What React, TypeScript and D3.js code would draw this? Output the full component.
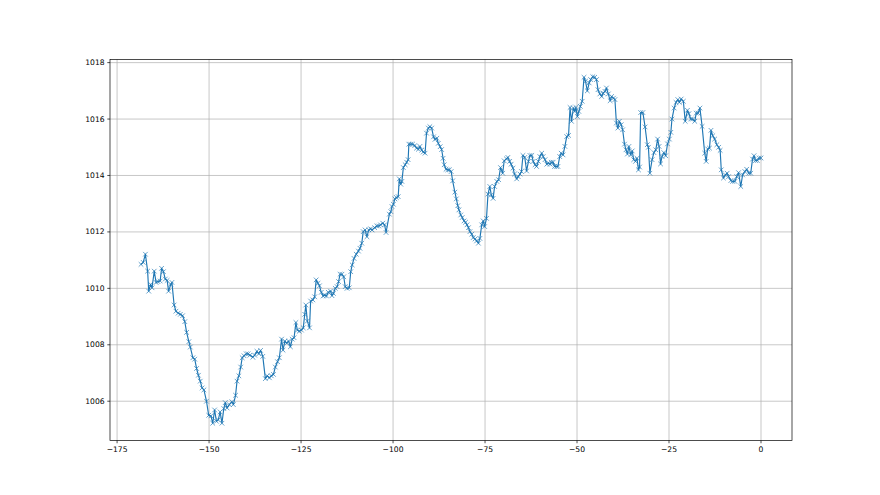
import React from "react";
import * as d3 from "d3";

const hoursA = [-168.5,-167.9,-167.3,-166.7,-166.4,-165.9,-165.5,-164.9,-164.4,-163.9,-163.3,-162.9,-162.4,-161.9,-161.4,-161.0,-160.4,-160.1,-159.5,-159.0,-158.4,-157.8,-157.2,-156.6,-156.1,-155.5,-155.1,-154.4,-153.9,-153.4,-152.9,-152.4,-151.9,-151.4,-150.7,-150.1,-149.5,-149.0,-148.5,-148.0,-147.5,-147.0,-146.5,-146.0,-145.6,-145.1,-144.5,-143.8,-143.4,-142.8,-142.4,-141.9,-141.4,-141.0,-140.5,-139.9,-139.4,-138.9,-138.1,-137.6,-137.0,-136.5,-136.0,-135.4];
const pressureA = [1010.85,1010.92,1011.21,1010.61,1009.90,1010.14,1010.02,1010.61,1010.21,1010.24,1010.26,1010.71,1010.59,1010.33,1010.28,1009.90,1010.14,1010.21,1009.41,1009.19,1009.12,1009.08,1009.03,1008.82,1008.44,1008.11,1007.92,1007.54,1007.49,1007.16,1006.92,1006.71,1006.47,1006.40,1006.00,1005.50,1005.48,1005.22,1005.69,1005.29,1005.34,1005.62,1005.22,1005.74,1005.95,1005.76,1005.88,1005.98,1005.88,1006.21,1006.71,1006.90,1007.21,1007.54,1007.61,1007.68,1007.68,1007.63,1007.56,1007.63,1007.77,1007.68,1007.80,1007.59];

const hoursB = [-134.7,-134.2,-133.6,-133.1,-132.5,-132.0,-131.4,-130.9,-130.3,-129.9,-129.4,-128.9,-128.4,-127.9,-127.4,-126.9,-126.4,-126.0,-125.5,-124.9,-124.4,-124.0,-123.7,-123.3,-122.7,-122.4,-121.8,-121.3,-120.9,-120.4,-120.0,-119.5,-119.0,-118.6,-118.1,-117.6,-117.0,-116.6,-116.2,-115.7,-115.2,-114.8,-114.4,-113.9,-113.4,-113.0,-112.5,-111.9,-111.5,-111.1,-110.6,-110.0,-109.4,-109.0,-108.5,-108.1,-107.6,-107.1,-106.6,-106.1,-105.7,-105.0,-104.4,-103.9,-103.4,-102.8,-102.3,-101.9];
const pressureB = [1006.80,1006.90,1006.83,1006.90,1006.95,1007.21,1007.40,1007.54,1008.20,1007.81,1008.13,1008.06,1008.13,1007.93,1008.20,1008.25,1008.79,1008.52,1008.48,1008.52,1008.60,1009.08,1009.41,1008.84,1008.60,1009.55,1009.59,1009.70,1010.30,1010.18,1010.09,1009.86,1009.73,1009.76,1009.73,1009.86,1009.90,1009.74,1009.82,1010.00,1010.06,1010.24,1010.50,1010.50,1010.41,1010.06,1010.00,1010.02,1010.59,1010.83,1011.06,1011.21,1011.32,1011.42,1011.60,1012.01,1012.07,1011.83,1012.07,1012.11,1012.07,1012.15,1012.21,1012.21,1012.25,1012.31,1012.25,1011.98];

const hoursC = [-101.0,-100.6,-100.3,-99.9,-99.5,-99.1,-98.6,-98.3,-97.9,-97.6,-97.2,-96.7,-96.3,-95.9,-95.7,-95.2,-94.7,-94.1,-93.6,-93.1,-92.7,-92.2,-91.8,-91.3,-90.9,-90.4,-90.0,-89.5,-89.0,-88.6,-88.1,-87.7,-87.2,-86.8,-86.4,-86.1,-85.6,-85.1,-84.7,-84.2,-83.8,-83.2,-82.8,-82.4,-82.1,-81.6,-81.2,-80.7,-80.3,-79.9,-79.5,-79.1,-78.6,-78.2,-77.7,-77.3,-76.8,-76.4,-75.9,-75.5,-75.1,-74.6,-74.2,-73.7,-73.3,-72.8,-72.4,-71.8,-71.3,-70.8,-70.2,-69.8,-69.2,-68.8,-68.3,-67.9,-67.4,-67.0];
const pressureC = [1012.63,1012.72,1012.90,1012.98,1013.17,1013.22,1013.25,1013.88,1013.69,1013.79,1014.28,1014.38,1014.47,1014.56,1015.11,1015.11,1015.11,1015.06,1014.97,1014.93,1015.03,1014.90,1014.83,1014.79,1015.50,1015.68,1015.73,1015.68,1015.37,1015.28,1015.32,1015.14,1015.02,1014.92,1014.61,1014.38,1014.22,1014.20,1014.20,1014.14,1013.81,1013.41,1013.17,1012.93,1012.78,1012.60,1012.51,1012.39,1012.34,1012.25,1012.15,1012.01,1011.92,1011.80,1011.75,1011.68,1011.60,1011.77,1012.25,1012.39,1012.19,1012.48,1013.34,1013.61,1013.31,1013.19,1013.61,1013.79,1013.85,1014.28,1014.08,1014.52,1014.59,1014.64,1014.50,1014.40,1014.26,1014.05];

const hoursD = [-66.4,-66.0,-65.5,-65.1,-64.7,-64.2,-63.7,-63.2,-62.8,-62.3,-61.9,-61.4,-61.0,-60.5,-60.1,-59.6,-59.2,-58.7,-58.2,-57.8,-57.3,-57.0,-56.5,-56.1,-55.6,-55.2,-54.7,-54.3,-53.8,-53.3,-52.8,-52.3,-51.9,-51.5,-51.0,-50.6,-50.3,-49.9,-49.5,-49.1,-48.6,-48.1,-47.7,-47.2,-46.7,-46.3,-45.7,-45.2,-44.7,-44.3,-43.8,-43.3,-42.9,-42.4,-42.0,-41.5,-41.0,-40.6,-40.1,-39.7,-39.3,-38.9,-38.5,-38.0,-37.6,-37.1,-36.7,-36.3,-35.9,-35.4,-35.0,-34.6,-34.1,-33.7,-33.3,-33.0];
const pressureD = [1013.88,1013.96,1014.05,1014.14,1014.71,1014.64,1014.16,1014.50,1014.71,1014.71,1014.50,1014.38,1014.32,1014.50,1014.67,1014.79,1014.67,1014.56,1014.40,1014.44,1014.40,1014.47,1014.47,1014.32,1014.32,1014.32,1014.67,1014.79,1014.73,1015.03,1015.38,1015.42,1016.41,1015.92,1016.39,1016.27,1016.41,1016.09,1016.27,1016.45,1016.63,1017.48,1017.34,1017.00,1017.28,1017.40,1017.50,1017.48,1017.40,1017.04,1016.89,1016.80,1016.92,1016.98,1017.10,1016.89,1016.65,1016.80,1016.74,1016.69,1015.86,1015.68,1015.92,1015.80,1015.62,1015.11,1014.91,1014.76,1015.03,1014.73,1014.87,1014.56,1014.50,1014.61,1014.20,1014.30];

const hoursE = [-32.7,-32.1,-31.5,-30.9,-30.6,-30.2,-29.6,-29.1,-28.6,-28.1,-27.7,-27.3,-26.9,-26.4,-25.9,-25.4,-24.9,-24.5,-24.2,-23.6,-23.1,-22.6,-22.2,-21.7,-21.1,-20.6,-20.0,-19.6,-19.1,-18.6,-18.0,-17.6,-17.1,-16.6,-16.0,-15.3,-14.9,-14.5,-14.0,-13.6,-13.1,-12.6,-12.0,-11.5,-11.1,-10.8,-10.2,-9.7,-9.2,-8.8,-8.2,-7.7,-7.1,-6.6,-6.1,-5.5,-5.0,-4.4,-3.9,-3.3,-2.8,-2.3,-1.9,-1.5,-1.0,-0.5,0];
const pressureE = [1016.23,1016.23,1015.72,1015.09,1015.00,1014.08,1014.56,1014.81,1014.91,1015.29,1015.03,1014.41,1014.67,1014.81,1014.70,1015.12,1015.29,1015.53,1016.00,1016.39,1016.59,1016.69,1016.59,1016.71,1016.63,1015.92,1016.31,1016.19,1016.00,1016.00,1015.92,1016.21,1016.21,1016.39,1015.74,1014.79,1014.50,1014.94,1014.97,1015.60,1015.41,1015.29,1015.09,1015.00,1014.89,1014.20,1013.91,1014.02,1014.08,1013.96,1013.82,1013.79,1013.79,1013.96,1014.10,1013.61,1014.02,1014.14,1014.22,1014.08,1014.08,1014.58,1014.70,1014.53,1014.53,1014.62,1014.62];

const xTicks = [-175, -150, -125, -100, -75, -50, -25, 0];
const yTicks = [1006, 1008, 1010, 1012, 1014, 1016, 1018];

const hours = [...hoursA, ...hoursB, ...hoursC, ...hoursD, ...hoursE];
const pressure = [...pressureA, ...pressureB, ...pressureC, ...pressureD, ...pressureE];

const W = 880;
const H = 495;
const L = 110;
const R = 792;
const T = 59.4;
const B = 440.55;
const COLOR = "#1f77b4";
const FONT = "DejaVu Sans, sans-serif";

const fmt = (v: number) => (v < 0 ? "\u2212" + Math.abs(v) : String(v));

export default function App() {
  const n = Math.min(hours.length, pressure.length);
  const data = d3.range(n).map((i) => ({ t: hours[i], p: pressure[i] }));
  const [tMin, tMax] = d3.extent(data, (d) => d.t) as [number, number];
  const [pMin, pMax] = d3.extent(data, (d) => d.p) as [number, number];
  const mx = (tMax - tMin) * 0.05;
  const my = (pMax - pMin) * 0.05;
  const x = d3.scaleLinear().domain([tMin - mx, tMax + mx]).range([L, R]);
  const y = d3.scaleLinear().domain([pMin - my, pMax + my]).range([B, T]);
  const line = d3
    .line<{ t: number; p: number }>()
    .x((d) => x(d.t))
    .y((d) => y(d.p));
  const ms = 2.3;

  return (
    <svg
      width={W}
      height={H}
      style={{ position: "absolute", left: 0, top: 0, background: "#fff" }}
    >
      <rect x={0} y={0} width={W} height={H} fill="#fff" />
      <g>
        {xTicks.map((t) => (
          <line key={"gx" + t} x1={x(t)} x2={x(t)} y1={T} y2={B} stroke="#b0b0b0" strokeWidth={0.7} />
        ))}
        {yTicks.map((v) => (
          <line key={"gy" + v} x1={L} x2={R} y1={y(v)} y2={y(v)} stroke="#b0b0b0" strokeWidth={0.7} />
        ))}
      </g>
      <path d={line(data) || ""} fill="none" stroke={COLOR} strokeWidth={1.15} strokeLinejoin="round" />
      <g stroke={COLOR} strokeWidth={0.8} opacity={0.85}>
        {data.map((d, i) => {
          const cx = x(d.t);
          const cy = y(d.p);
          return (
            <path
              key={i}
              d={`M${cx - ms},${cy - ms}L${cx + ms},${cy + ms}M${cx - ms},${cy + ms}L${cx + ms},${cy - ms}`}
              fill="none"
            />
          );
        })}
      </g>
      <rect x={L} y={T} width={R - L} height={B - T} fill="none" stroke="#000" strokeWidth={0.7} />
      <g fontFamily={FONT} fontSize={7.6} fill="#000">
        {xTicks.map((t) => (
          <g key={"tx" + t}>
            <line x1={x(t)} x2={x(t)} y1={B} y2={B + 2.7} stroke="#000" strokeWidth={0.7} />
            <text x={x(t)} y={B + 5.4} textAnchor="middle" dominantBaseline="hanging">
              {fmt(t)}
            </text>
          </g>
        ))}
        {yTicks.map((v) => (
          <g key={"ty" + v}>
            <line x1={L - 2.7} x2={L} y1={y(v)} y2={y(v)} stroke="#000" strokeWidth={0.7} />
            <text x={L - 5.4} y={y(v)} textAnchor="end" dominantBaseline="central">
              {fmt(v)}
            </text>
          </g>
        ))}
      </g>
    </svg>
  );
}
